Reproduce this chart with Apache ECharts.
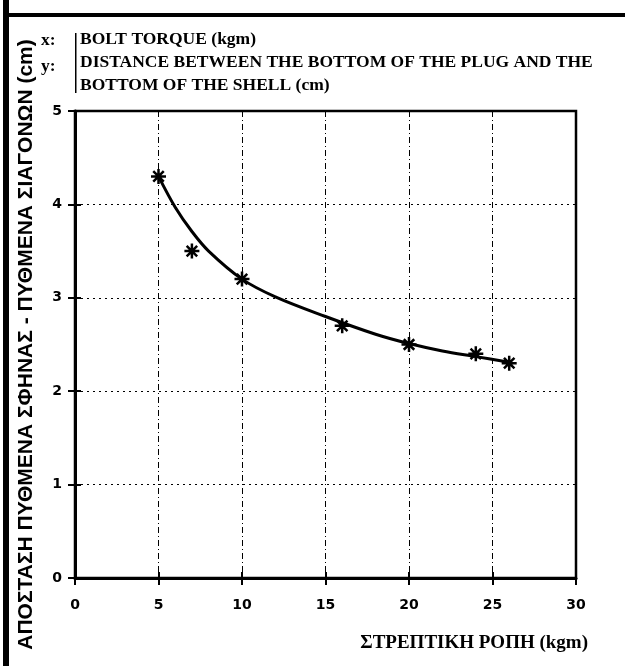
<!DOCTYPE html>
<html>
<head>
<meta charset="utf-8">
<script src="https://cdn.jsdelivr.net/npm/echarts@6/dist/echarts.min.js"></script>
<style>
html,body{margin:0;padding:0;background:#fff;}
#chart{width:625px;height:666px;}
</style>
</head>
<body>
<div id="chart"></div>
<script>
// Measured points (bolt torque kgm, distance cm)
var pointX = [5, 7, 10, 16, 20, 24, 26];
var pointY = [4.3, 3.5, 3.2, 2.7, 2.5, 2.4, 2.3];
// Fitted curve
var curveX = [5, 6, 7, 8, 10, 12, 15, 18, 20, 22, 24, 26];
var curveY = [4.3, 3.97, 3.71, 3.5, 3.2, 3.01, 2.8, 2.61, 2.51, 2.43, 2.37, 2.31];
var xTicks = [0, 5, 10, 15, 20, 25, 30];
var yTicks = [0, 1, 2, 3, 4, 5];

var legendLines = [
  'BOLT TORQUE (kgm)',
  'DISTANCE BETWEEN THE BOTTOM OF THE PLUG AND THE',
  'BOTTOM OF THE SHELL (cm)'
];
var yTitle = 'ΑΠΟΣΤΑΣΗ ΠΥΘΜΕΝΑ ΣΦΗΝΑΣ - ΠΥΘΜΕΝΑ ΣΙΑΓΟΝΩΝ (cm)';
var xTitle = 'ΣΤΡΕΠΤΙΚΗ ΡΟΠΗ (kgm)';

var star = 'path://M0,-10L0,10M-10,0L10,0M-7,-7L7,7M-7,7L7,-7';

var chart = echarts.init(document.getElementById('chart'));
var tickFont = {fontFamily: 'DejaVu Sans', fontWeight: 'bold', fontSize: 14, color: '#000'};
var txtFont = 'bold 17.5px "Liberation Serif"';
var option = {
  animation: false,
  backgroundColor: '#fff',
  grid: {left: 75, top: 111, right: 49, bottom: 88, containLabel: false, outerBoundsMode: 'none',
         show: true, borderColor: '#000', borderWidth: 2.5, backgroundColor: 'transparent'},
  xAxis: [{
    type: 'value', min: 0, max: 30, interval: 5,
    axisLine: {lineStyle: {color: '#000', width: 3}},
    axisTick: {length: 7, lineStyle: {color: '#000', width: 2}},
    axisLabel: Object.assign({margin: 20, formatter: function(v){return xTicks.indexOf(v) >= 0 ? String(v) : '';}}, tickFont),
    splitLine: {show: true, lineStyle: {color: '#000', width: 1, type: [6, 3, 1, 3]}}
  }, {
    type: 'value', min: 0, max: 30, interval: 5, position: 'bottom',
    axisLine: {show: false},
    axisTick: {show: true, inside: true, length: 6, lineStyle: {color: '#000', width: 2}},
    axisLabel: {show: false}, splitLine: {show: false}
  }],
  yAxis: [{
    type: 'value', min: 0, max: 5, interval: 1,
    name: yTitle, nameLocation: 'middle', nameGap: 38, nameRotate: 90,
    nameTextStyle: {fontFamily: 'Liberation Sans', fontWeight: 'bold', fontSize: 21, color: '#000'},
    axisLine: {lineStyle: {color: '#000', width: 3}},
    axisTick: {length: 7, lineStyle: {color: '#000', width: 2}},
    axisLabel: Object.assign({margin: 13, formatter: function(v){return yTicks.indexOf(v) >= 0 ? String(v) : '';}}, tickFont),
    splitLine: {show: true, lineStyle: {color: '#000', width: 1, type: [2, 4]}}
  }, {
    type: 'value', min: 0, max: 5, interval: 1, position: 'left',
    axisLine: {show: false},
    axisTick: {show: true, inside: true, length: 6, lineStyle: {color: '#000', width: 2}},
    axisLabel: {show: false}, splitLine: {show: false}
  }],
  series: [{
    type: 'line', smooth: 0.35, showSymbol: false,
    data: curveX.map(function(x, i){return [x, curveY[i]];}),
    lineStyle: {color: '#000', width: 3}
  }, {
    type: 'scatter', symbol: star, symbolSize: 15,
    data: pointX.map(function(x, i){return [x, pointY[i]];}),
    itemStyle: {color: 'none', borderColor: '#000', borderWidth: 2.5, opacity: 1}
  }],
  graphic: [
    {type: 'rect', left: 3, top: 0, shape: {width: 6, height: 666}, style: {fill: '#000'}},
    {type: 'rect', left: 3, top: 13, shape: {width: 622, height: 4}, style: {fill: '#000'}},
    {type: 'text', left: 41, top: 31, style: {text: 'x:', font: txtFont, fill: '#000'}},
    {type: 'text', left: 41, top: 57, style: {text: 'y:', font: txtFont, fill: '#000'}},
    {type: 'rect', left: 75, top: 33, shape: {width: 1.5, height: 60}, style: {fill: '#000'}},
    {type: 'text', left: 80, top: 30, style: {text: legendLines[0], font: txtFont, fill: '#000'}},
    {type: 'text', left: 80, top: 53, style: {text: legendLines[1], font: txtFont, fill: '#000'}},
    {type: 'text', left: 80, top: 76, style: {text: legendLines[2], font: txtFont, fill: '#000'}},
    {type: 'text', right: 37, top: 634, style: {text: xTitle, font: 'bold 19px "Liberation Serif"', fill: '#000'}}
  ]
};
chart.setOption(option);
</script>
</body>
</html>
